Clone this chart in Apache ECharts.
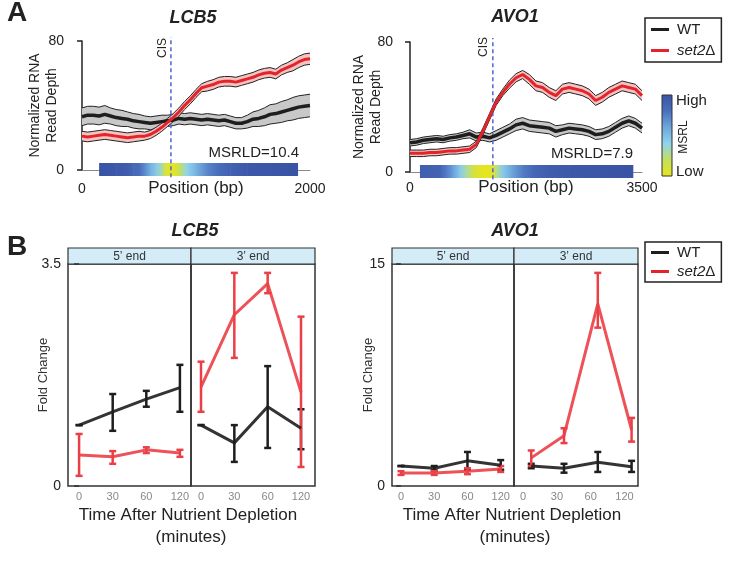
<!DOCTYPE html>
<html>
<head>
<meta charset="utf-8">
<script src="https://cdn.jsdelivr.net/npm/echarts@6.0.0/dist/echarts.min.js"></script>
<style>
  html, body { margin: 0; padding: 0; background: #fff; }
  #main { width: 729px; height: 568px; }
</style>
</head>
<body>
<div id="main"></div>
<script>
// ---------- panel A: read depth along the gene ----------
const lcbPos = [0, 50, 100, 150, 200, 250, 300, 350, 400, 450, 500, 550, 600, 650, 700, 750, 800, 850, 900, 950,
  1000, 1050, 1100, 1150, 1200, 1250, 1300, 1350, 1400, 1450, 1500, 1550, 1600, 1650, 1700, 1750, 1800, 1850, 1900, 1950, 2000];
const lcbWtMean = [33, 34, 34, 33.5, 34.5, 33.5, 32.5, 32, 31.5, 30.5, 30, 29.5, 29, 29.5, 30, 30.5, 31, 32, 31.5, 32,
  31.5, 31, 31.5, 31, 30.5, 31, 30, 29, 29, 30, 31.5, 32, 33, 34.5, 35, 36, 37, 38, 39, 39.5, 40];
const lcbWtHalf = [5.5, 5.5, 5.5, 5.5, 5.5, 5, 5, 5, 4.5, 4.5, 4.5, 4, 4, 4, 4, 3.5, 3.5, 3.5, 3.5, 3.5,
  3.5, 3.5, 3.5, 3.5, 3.5, 3.5, 3.5, 3.5, 3.5, 4, 4.5, 5, 5.5, 6, 6, 6.5, 6.5, 7, 7, 7, 7];
const lcbSetMean = [21, 20.5, 21, 21.5, 22, 21.5, 21, 20.5, 20, 20.5, 21, 21, 22, 24, 26.5, 29.5, 32.5, 36, 40, 43.5,
  47.5, 51, 52, 53, 54.5, 55, 55, 54.5, 55.5, 56.5, 57.5, 59, 60, 60.5, 59.5, 62, 63.5, 65, 67, 68.5, 69];
const lcbSetHalf = [3, 3, 3, 3, 3, 3, 3, 3, 3, 3, 3, 2.5, 2.5, 2.5, 2.5, 2.5, 2.5, 2.5, 2.5, 2.5,
  2.5, 2.5, 3, 3, 3, 3, 3, 3, 3, 3, 3, 3, 3, 3, 3, 3, 3, 3.5, 3.5, 3.5, 3.5];
const lcbCis = 780;
const lcbMsrlPos = [150, 300, 400, 450, 500, 550, 600, 650, 700, 730, 780, 830, 870, 920, 1000, 1100, 1200, 1300, 1450, 1890];
const lcbMsrl = [1, 0.97, 0.93, 0.85, 0.82, 0.7, 0.55, 0.45, 0.3, 0.1, 0, 0.08, 0.25, 0.4, 0.55, 0.72, 0.82, 0.9, 0.97, 1];

const avoPos = [0, 100, 200, 300, 400, 500, 600, 700, 800, 900, 1000, 1100, 1200, 1300, 1400, 1500, 1600, 1700,
  1800, 1900, 2000, 2100, 2200, 2300, 2400, 2500, 2600, 2700, 2800, 2900, 3000, 3100, 3200, 3300, 3400, 3500];
const avoWtMean = [18, 18.5, 19.5, 20, 20.5, 20, 21, 21.5, 22.5, 23.5, 21.5, 22, 21, 22.5, 24.5, 26.5, 29, 30,
  28.5, 28, 27.5, 27, 25, 26, 27, 26.5, 26, 25, 23, 23.5, 25, 27.5, 30, 31.5, 30, 27];
const avoWtHalf = [2, 2, 2, 2, 2, 2, 2, 2, 2, 2.5, 2.5, 2.5, 2.5, 3, 3, 3, 3.5, 3.5,
  3.5, 3.5, 3.5, 3.5, 3.5, 3, 3, 3, 3, 3, 3, 3, 3, 3, 3, 3, 3, 3];
const avoSetMean = [11.5, 11.5, 11.5, 12, 12, 12.5, 13, 13, 13.5, 14, 17, 25, 34, 43, 49, 54, 58, 60,
  57, 53, 52, 49, 47, 51, 52, 51, 50, 48, 44, 46, 49, 51, 53, 52, 51, 47];
const avoSetHalf = [2, 2, 2, 2, 2, 2, 2, 2, 2, 2, 2, 2, 2, 2, 2, 2.5, 2.5, 2.5,
  3, 3, 3, 3, 3, 3, 3, 3, 3, 3, 3, 3, 3, 3, 3, 3, 3, 3];
const avoCis = 1250;
const avoMsrlPos = [150, 450, 550, 650, 750, 850, 950, 1050, 1150, 1250, 1320, 1400, 1550, 1700, 1850, 2050, 2400, 3360];
const avoMsrl = [0.92, 0.88, 0.75, 0.62, 0.45, 0.3, 0.12, 0.04, 0, 0.05, 0.3, 0.45, 0.62, 0.75, 0.85, 0.92, 0.97, 1];

// ---------- panel B: fold change over time ----------
const timeLabels = ['0', '30', '60', '120'];
const lcb5X = [0, 1, 2, 3];
const lcb5Wt = [0.96, 1.17, 1.37, 1.55];
const lcb5WtLo = [0.96, 0.87, 1.25, 1.17];
const lcb5WtHi = [0.96, 1.45, 1.5, 1.91];
const lcb5Set = [0.49, 0.46, 0.57, 0.52];
const lcb5SetLo = [0.16, 0.35, 0.52, 0.46];
const lcb5SetHi = [0.82, 0.55, 0.61, 0.57];

const lcb3X = [0, 1, 2, 3];
const lcb3Wt = [0.96, 0.68, 1.25, 0.91];
const lcb3WtLo = [0.96, 0.38, 0.6, 0.58];
const lcb3WtHi = [0.96, 0.96, 1.89, 1.21];
const lcb3Set = [1.56, 2.7, 3.19, 1.48];
const lcb3SetLo = [1.17, 2.02, 3.04, 0.3];
const lcb3SetHi = [1.96, 3.36, 3.36, 2.67];

const avo5X = [0, 1, 2, 3];
const avo5Wt = [1.35, 1.2, 1.7, 1.4];
const avo5WtLo = [1.35, 1.05, 1.1, 1.1];
const avo5WtHi = [1.35, 1.35, 2.3, 1.75];
const avo5Set = [0.88, 0.88, 1.0, 1.15];
const avo5SetLo = [0.75, 0.75, 0.8, 0.95];
const avo5SetHi = [1.0, 1.0, 1.2, 1.35];

const avo3X = [0.24, 1.21, 2.21, 3.21];
const avo3Wt = [1.35, 1.2, 1.6, 1.3];
const avo3WtLo = [1.2, 0.9, 0.95, 0.95];
const avo3WtHi = [1.5, 1.5, 2.3, 1.7];
const avo3Set = [1.9, 3.4, 12.3, 3.8];
const avo3SetLo = [1.35, 2.9, 10.7, 3.0];
const avo3SetHi = [2.4, 3.9, 14.4, 4.6];

const legendNames = ['WT', 'set2Δ'];
const msrlColors = ['#e7e51c', '#c5df5c', '#8fd4ee', '#6ea6dc', '#4a6fbd', '#3a54a5'];

const fontFamily = '"Liberation Sans", Arial, sans-serif';
const black = '#1e1e1e';
const red = '#e3242b';
const redB = '#ea3f46';

const chart = echarts.init(document.getElementById('main'), null, { renderer: 'canvas' });

// colour strip under the tracks, one gradient piece between neighbouring points
function msrlBar(params, api) {
  const i = params.dataIndexInside;
  if (i >= params.dataInsideLength - 1) return null;
  const a = api.coord([api.value(0), 0]);
  const b = api.coord([api.value(0, i + 1), 0]);
  const c0 = api.visual('color');
  const c1 = api.visual('color', i + 1);
  return {
    type: 'rect',
    shape: { x: a[0], y: a[1] - 7, width: b[0] - a[0] + 0.6, height: 13 },
    style: {
      fill: new echarts.graphic.LinearGradient(0, 0, 1, 0, [
        { offset: 0, color: c0 }, { offset: 1, color: c1 }
      ])
    }
  };
}

// shaded band with dark outline, drawn once for the whole series
function bandShape(params, api) {
  if (params.dataIndexInside !== 0) return null;
  const n = params.dataInsideLength;
  const up = [];
  const lo = [];
  for (let j = 0; j < n; j++) {
    const x = api.value(0, j);
    up.push(api.coord([x, api.value(2, j)]));
    lo.push(api.coord([x, api.value(1, j)]));
  }
  return {
    type: 'group',
    children: [
      { type: 'polygon', shape: { points: up.concat(lo.slice().reverse()) }, style: { fill: api.visual('color'), stroke: null } },
      { type: 'polyline', shape: { points: up }, style: { stroke: '#222', lineWidth: 1, fill: null } },
      { type: 'polyline', shape: { points: lo }, style: { stroke: '#222', lineWidth: 1, fill: null } }
    ]
  };
}

function errBar(params, api) {
  const x = api.value(0);
  const top = api.coord([x, api.value(2)]);
  const bot = api.coord([x, api.value(1)]);
  const cw = 3.5;
  const style = { stroke: api.visual('color'), lineWidth: 2.5 };
  return {
    type: 'group',
    children: [
      { type: 'line', shape: { x1: top[0], y1: top[1], x2: bot[0], y2: bot[1] }, style },
      { type: 'line', shape: { x1: top[0] - cw, y1: top[1], x2: top[0] + cw, y2: top[1] }, style },
      { type: 'line', shape: { x1: bot[0] - cw, y1: bot[1], x2: bot[0] + cw, y2: bot[1] }, style }
    ]
  };
}

function band(ax, pos, mean, half, fill) {
  return {
    type: 'custom', xAxisIndex: ax, yAxisIndex: ax, silent: true,
    renderItem: bandShape, encode: { x: 0, y: [1, 2] },
    data: pos.map((p, i) => [p, mean[i] - half[i], mean[i] + half[i]]),
    itemStyle: { color: fill }
  };
}

function meanLine(ax, name, pos, mean, color, width) {
  return {
    type: 'line', name, xAxisIndex: ax, yAxisIndex: ax, symbol: 'none', silent: true,
    data: pos.map((p, i) => [p, mean[i]]),
    lineStyle: { color, width }, itemStyle: { color }
  };
}

function facet(ax, xs, wt, wtLo, wtHi, st, stLo, stHi) {
  const mk = (name, vals, color) => ({
    type: 'line', name, xAxisIndex: ax, yAxisIndex: ax, symbol: 'none', silent: true,
    data: xs.map((x, i) => [x, vals[i]]),
    lineStyle: { color, width: 3, opacity: 0.9 }, itemStyle: { color }
  });
  const err = (lo, hi, color) => ({
    type: 'custom', xAxisIndex: ax, yAxisIndex: ax, silent: true,
    renderItem: errBar, encode: { x: 0, y: [1, 2] },
    data: xs.map((x, i) => [x, lo[i], hi[i]]),
    itemStyle: { color, opacity: 0.9 }
  });
  return [mk('WT', wt, black), err(wtLo, wtHi, black), mk('set2Δ', st, redB), err(stLo, stHi, redB)];
}

const series = [];
[[lcbMsrlPos, lcbMsrl], [avoMsrlPos, avoMsrl]].forEach(([pos, vals], ax) => {
  series.push({
    type: 'custom', xAxisIndex: ax, yAxisIndex: ax, silent: true, clip: false,
    renderItem: msrlBar, data: pos.map((p, i) => [p, vals[i]])
  });
});
[lcbCis, avoCis].forEach((c, ax) => {
  series.push({
    type: 'line', xAxisIndex: ax, yAxisIndex: ax, symbol: 'none', silent: true, clip: false,
    data: [[c, -4.5], [c, 82.5]],
    lineStyle: { color: '#4f63d6', width: 1.5, type: [4, 3] }
  });
});
series.push(band(0, lcbPos, lcbWtMean, lcbWtHalf, '#c8c8c8'));
series.push(band(0, lcbPos, lcbSetMean, lcbSetHalf, '#f6c3c3'));
series.push(meanLine(0, 'WT', lcbPos, lcbWtMean, black, 3.5));
series.push(meanLine(0, 'set2Δ', lcbPos, lcbSetMean, red, 3));
series.push(band(1, avoPos, avoWtMean, avoWtHalf, '#c8c8c8'));
series.push(band(1, avoPos, avoSetMean, avoSetHalf, '#f6c3c3'));
series.push(meanLine(1, 'WT', avoPos, avoWtMean, black, 3.5));
series.push(meanLine(1, 'set2Δ', avoPos, avoSetMean, red, 3));
series.push(...facet(2, lcb5X, lcb5Wt, lcb5WtLo, lcb5WtHi, lcb5Set, lcb5SetLo, lcb5SetHi));
series.push(...facet(3, lcb3X, lcb3Wt, lcb3WtLo, lcb3WtHi, lcb3Set, lcb3SetLo, lcb3SetHi));
series.push(...facet(4, avo5X, avo5Wt, avo5WtLo, avo5WtHi, avo5Set, avo5SetLo, avo5SetHi));
series.push(...facet(5, avo3X, avo3Wt, avo3WtLo, avo3WtHi, avo3Set, avo3SetLo, avo3SetHi));

const boxGrid = { show: true, borderColor: '#333', borderWidth: 1.5, backgroundColor: 'transparent' };
const grids = [
  { left: 82, top: 41, width: 228, height: 129 },
  { left: 410, top: 42, width: 232, height: 130 },
  Object.assign({ left: 68, top: 264, width: 123, height: 222 }, boxGrid),
  Object.assign({ left: 191, top: 264, width: 124, height: 222 }, boxGrid),
  Object.assign({ left: 392, top: 264, width: 122, height: 222 }, boxGrid),
  Object.assign({ left: 514, top: 264, width: 124, height: 222 }, boxGrid)
];

const posAxis = (gi, max, offset) => ({
  gridIndex: gi, type: 'value', min: 0, max, interval: max, offset,
  axisLine: { lineStyle: { color: '#8a8a8a', width: 1 } },
  axisTick: { show: false }, splitLine: { show: false },
  axisLabel: { fontSize: 14, color: '#222', margin: 4, formatter: v => String(v) },
  name: 'Position (bp)', nameLocation: 'middle', nameGap: 2, nameMoveOverlap: false,
  nameTextStyle: { fontSize: 17, color: '#222' }
});
const timeAxis = (gi, min, max) => ({
  gridIndex: gi, type: 'value', min, max,
  axisLine: { show: false }, axisTick: { show: false }, splitLine: { show: false },
  axisLabel: {
    customValues: [0, 1, 2, 3], formatter: v => timeLabels[Math.round(v)],
    fontSize: 11, color: '#888', margin: 5
  }
});
const depthAxis = (gi, offset, gap) => ({
  gridIndex: gi, type: 'value', min: 0, max: 80, interval: 80, offset,
  axisLine: { show: true, lineStyle: { color: '#222', width: 1.5 } },
  axisTick: { show: true, length: 5, lineStyle: { color: '#222', width: 1.5 } },
  axisLabel: { fontSize: 14, color: '#222', margin: 9 },
  splitLine: { show: false },
  name: 'Normalized RNA\nRead Depth', nameLocation: 'middle', nameGap: gap, nameMoveOverlap: false,
  nameTextStyle: { fontSize: 14, lineHeight: 17, color: '#222' }
});
const foldAxis = (gi, max, gap) => ({
  gridIndex: gi, type: 'value', min: 0, max, interval: max,
  axisLine: { show: false },
  axisTick: { show: true, length: 5, lineStyle: { color: '#333', width: 1.5 } },
  axisLabel: { fontSize: 14, color: '#222', margin: 7 },
  splitLine: { show: false },
  name: 'Fold Change', nameLocation: 'middle', nameGap: gap, nameMoveOverlap: false,
  nameTextStyle: { fontSize: 13, color: '#333' }
});
const hiddenAxis = (gi, max) => ({ gridIndex: gi, type: 'value', min: 0, max, show: false, splitLine: { show: false } });

function txt(text, x, y, size, o = {}) {
  const align = o.align || 'center';
  return {
    type: 'text', x, y, rotation: o.rotation || 0, silent: true, z: 10,
    style: {
      text, fontSize: size, fontFamily, fontWeight: o.weight || 'normal',
      fontStyle: o.italic ? 'italic' : 'normal', fill: o.color || '#222',
      textAlign: align, align, textVerticalAlign: 'middle', verticalAlign: 'middle'
    }
  };
}

const graphic = [
  txt('A', 17, 13, 28, { weight: 'bold' }),
  txt('B', 17, 247, 28, { weight: 'bold' }),
  txt('LCB5', 193, 18, 18, { weight: 'bold', italic: true }),
  txt('AVO1', 515, 17, 18, { weight: 'bold', italic: true }),
  txt('LCB5', 195, 231, 18, { weight: 'bold', italic: true }),
  txt('AVO1', 515, 231, 18, { weight: 'bold', italic: true }),
  txt('CIS', 163, 48, 12, { rotation: Math.PI / 2 }),
  txt('CIS', 484, 47, 12, { rotation: Math.PI / 2 }),
  txt('MSRLD=10.4', 299, 153, 15, { align: 'right' }),
  txt('MSRLD=7.9', 633, 154, 15, { align: 'right' }),
  {
    type: 'rect', silent: true,
    shape: { x: 662, y: 95, width: 10, height: 81 },
    style: {
      stroke: '#333', lineWidth: 1,
      fill: new echarts.graphic.LinearGradient(0, 0, 0, 1,
        msrlColors.slice().reverse().map((c, i, arr) => ({ offset: i / (arr.length - 1), color: c })))
    }
  },
  txt('High', 676, 101, 15, { align: 'left' }),
  txt('Low', 676, 172, 15, { align: 'left' }),
  txt('MSRL', 684, 137, 12, { rotation: Math.PI / 2 }),
  txt('Time After Nutrient Depletion', 188, 515, 17),
  txt('(minutes)', 191, 537, 17),
  txt('Time After Nutrient Depletion', 512, 515, 17),
  txt('(minutes)', 515, 537, 17)
];
const strips = [[68, 123, '5’ end'], [191, 124, '3’ end'], [392, 122, '5’ end'], [514, 124, '3’ end']];
strips.forEach(([x, w, label]) => {
  graphic.push({
    type: 'rect', silent: true, shape: { x, y: 248, width: w, height: 16 },
    style: { fill: '#d3ecf8', stroke: '#333', lineWidth: 1.2 }
  });
  graphic.push(txt(label, x + w / 2, 256.5, 12, { color: '#333' }));
});

const legendBase = {
  data: legendNames, orient: 'vertical', left: 645, icon: 'rect',
  itemWidth: 18, itemHeight: 3, selectedMode: false,
  borderColor: '#222', borderWidth: 1.5, borderRadius: 0,
  textStyle: {
    fontSize: 15, color: '#222', lineHeight: 17, padding: [0, 0, 0, 3],
    rich: { i: { fontStyle: 'italic', fontSize: 15, color: '#222' } }
  },
  formatter: n => (n === 'set2Δ' ? '{i|set2}Δ' : n)
};

const option = {
  animation: false,
  backgroundColor: '#fff',
  textStyle: { fontFamily },
  grid: grids,
  xAxis: [
    posAxis(0, 2000, 8),
    posAxis(1, 3500, 5),
    timeAxis(2, -0.33, 3.33),
    timeAxis(3, -0.3, 3.42),
    timeAxis(4, -0.27, 3.4),
    timeAxis(5, -0.27, 3.4)
  ],
  yAxis: [
    depthAxis(0, 9, 12),
    depthAxis(1, 8, 17),
    foldAxis(2, 3.5, 18),
    hiddenAxis(3, 3.5),
    foldAxis(4, 15, 17),
    hiddenAxis(5, 15)
  ],
  visualMap: {
    type: 'continuous', show: false, min: 0, max: 1, dimension: 1,
    seriesIndex: [0, 1], inRange: { color: msrlColors }
  },
  legend: [
    Object.assign({ top: 18, padding: [3, 6, 3, 6], itemGap: 4 }, legendBase),
    Object.assign({ top: 242, padding: [2, 6, 2, 6], itemGap: 2 }, legendBase)
  ],
  graphic,
  series
};

chart.setOption(option);
</script>
</body>
</html>
